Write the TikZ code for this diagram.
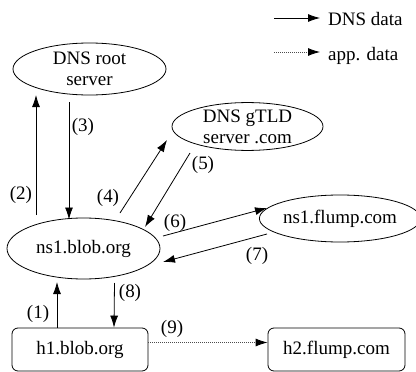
\documentclass[tikz,border=0pt]{standalone}
\usepackage{fontspec}
\setmainfont{Liberation Serif}
\usetikzlibrary{positioning,arrows.meta,calc,shapes.geometric}

\begin{document}
\begin{tikzpicture}[x=1pt,y=-1pt,
    font=\fontsize{19}{21}\selectfont,
    srv/.style={draw,ellipse,inner sep=0pt,line width=0.8pt,align=center},
    host/.style={draw,rounded corners=6pt,inner sep=0pt,minimum width=136pt,
                 minimum height=43pt,line width=0.8pt},
    dns/.style={-{Latex[length=12pt,width=8pt]},line width=0.8pt},
    app/.style={-{Latex[length=12pt,width=8pt,black]},line width=0.8pt,
                draw=black!70,dash pattern=on 1pt off 1pt},
    num/.style={inner sep=0pt}]
  \useasboundingbox (0,0) rectangle (416,372);

  % servers and hosts
  \node[srv,minimum width=153pt,minimum height=52pt] (root) at (89.5,69) {DNS root\\server};
  \node[srv,minimum width=151pt,minimum height=47pt] (gtld) at (247.5,126.5) {DNS gTLD\\server .com};
  \node[srv,minimum width=153pt,minimum height=61pt] (ns1) at (83.5,248.5) {ns1.blob.org};
  \node[srv,minimum width=146pt,minimum height=47pt] (flump) at (340,218.5) {ns1.flump.com};
  \node[host] (h1) at (80,349.5) {h1.blob.org};
  \node[host,minimum width=137pt] (h2) at (336.5,349.5) {h2.flump.com};

  % legend
  \node[num,anchor=base west] (lgdns) at (328,25) {DNS data};
  \node[num,anchor=base west] (lgapp) at (328,60) {app. data};
  \coordinate (lgA) at (274,18);
  \coordinate (lgB) at (274,52);
  \draw[dns,shorten >=8pt] (lgA) -- (lgA -| lgdns.west);
  \draw[app,shorten >=8pt] (lgB) -- (lgB -| lgapp.west);

  % lookup steps
  \draw[dns] ($(h1.north)+(-23,0)$) -- ($(ns1)+(-26.5,33.5)$);
  \draw[dns] ($(ns1)+(-47.5,-33.5)$) -- ($(root)+(-53.5,26)$);
  \draw[dns] ($(root)+(-20.5,33)$) -- ($(ns1)+(-14.5,-29)$);
  \draw[dns] ($(ns1)+(36.5,-35.5)$) -- ($(gtld)+(-80.5,13.5)$);
  \draw[dns] ($(gtld)+(-57.5,26.5)$) -- ($(ns1)+(61.5,-21.5)$);
  \draw[dns] ($(ns1)+(79.5,-12.5)$) -- ($(flump)+(-73,-10.5)$);
  \draw[dns] ($(flump)+(-73,15.5)$) -- ($(ns1)+(79.5,13.5)$);
  \draw[dns] ($(ns1)+(31,34.5)$) -- ($(h1.north)+(34,0)$);
  \draw[app] ($(h1.east)+(0,-7)$) -- ($(h2.west)+(0,-7)$);

  % step numbers
  \node[num] (n1) at (38,314) {(1)};
  \node[num] (n2) at (21,195) {(2)};
  \node[num] (n3) at (83,127) {(3)};
  \node[num] (n4) at (108,198) {(4)};
  \node[num] (n5) at (203,165) {(5)};
  \node[num] (n6) at (175,223) {(6)};
  \node[num] (n7) at (257,256) {(7)};
  \node[num] (n8) at (130,293) {(8)};
  \node[num] (n9) at (172,329) {(9)};
\end{tikzpicture}
\end{document}
